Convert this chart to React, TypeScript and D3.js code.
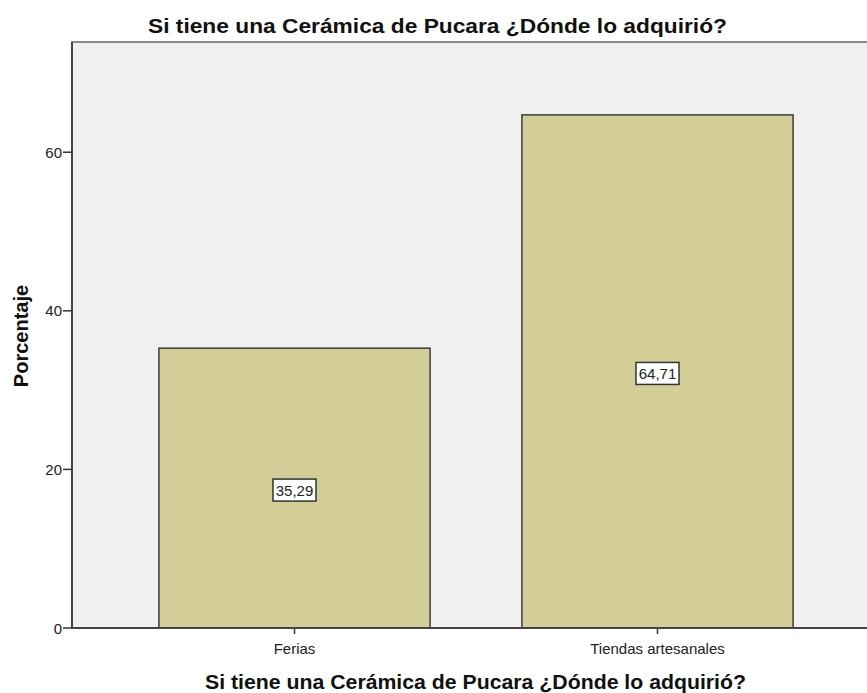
import React from "react";
import * as d3 from "d3";

const categories = ["Ferias", "Tiendas artesanales"];
const values = [35.29, 64.71];
const valueLabels = ["35,29", "64,71"];
const yTicks = [0, 20, 40, 60];
const title = "Si tiene una Cerámica de Pucara ¿Dónde lo adquirió?";
const yTitle = "Porcentaje";

export default function App() {
  const W = 867, H = 693;
  const left = 72, top = 42, bottom = 628, right = 880;
  const y = d3.scaleLinear().domain([0, 73.9]).range([bottom, top]);
  const x = d3.scaleBand<string>().domain(categories).range([113, 839]).paddingInner(0.253).paddingOuter(0.1265);
  const font = "Arial, 'Liberation Sans', sans-serif";
  return (
    <svg width={W} height={H} style={{ position: "absolute", left: 0, top: 0 }} fontFamily={font}>
      <rect x={0} y={0} width={W} height={H} fill="#ffffff" />
      <rect x={left} y={top} width={right - left} height={bottom - top} fill="#f0f0f0" stroke="#666" strokeWidth={1.5} />
      {categories.map((c, i) => {
        const bx = x(c)!;
        const bw = x.bandwidth();
        const by = y(values[i]);
        const cx = bx + bw / 2;
        const cy = (by + bottom) / 2 + 2;
        return (
          <g key={c}>
            <rect x={bx} y={by} width={bw} height={bottom - by} fill="#d3ce97" stroke="#3c3c3c" strokeWidth={1.5} />
            <rect x={cx - 21.5} y={cy - 11} width={43} height={22} fill="#ffffff" stroke="#333" strokeWidth={1.5} />
            <text x={cx} y={cy + 5.5} textAnchor="middle" fontSize={15} fill="#222">{valueLabels[i]}</text>
            <line x1={cx} x2={cx} y1={bottom} y2={bottom + 6} stroke="#333" strokeWidth={1.5} />
            <text x={cx} y={bottom + 26} textAnchor="middle" fontSize={15} fill="#222">{c}</text>
          </g>
        );
      })}
      <line x1={left} x2={left} y1={top} y2={bottom} stroke="#444" strokeWidth={2} />
      <line x1={left} x2={W} y1={bottom} y2={bottom} stroke="#444" strokeWidth={2} />
      {yTicks.map((t) => (
        <g key={t}>
          <line x1={left - 9} x2={left} y1={y(t)} y2={y(t)} stroke="#333" strokeWidth={1.5} />
          <text x={left - 10} y={y(t) + 5.5} textAnchor="end" fontSize={15} fill="#222">{t}</text>
        </g>
      ))}
      <text x={148} y={33} fontSize={21} fontWeight="bold" fill="#111" textLength={579} lengthAdjust="spacingAndGlyphs">{title}</text>
      <text x={205} y={689} fontSize={20} fontWeight="bold" fill="#111" textLength={541} lengthAdjust="spacingAndGlyphs">{title}</text>
      <text transform={`translate(28,${336}) rotate(-90)`} textAnchor="middle" fontSize={20} fontWeight="bold" fill="#111">{yTitle}</text>
    </svg>
  );
}
